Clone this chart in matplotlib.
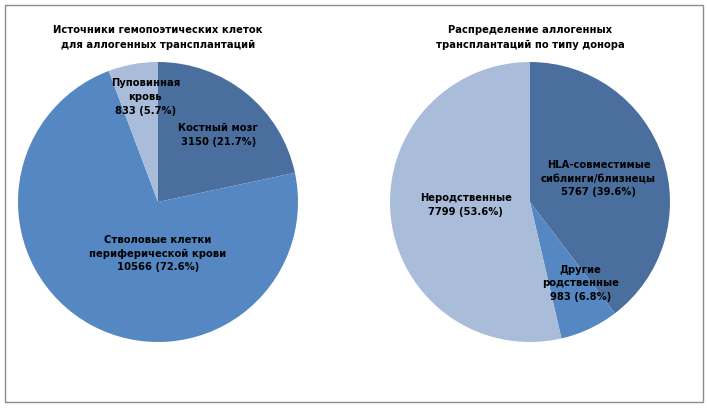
import matplotlib.pyplot as plt
from matplotlib.patches import Rectangle

# источники клеток
src_labels = ['Костный мозг', 'Стволовые клетки\nпериферической крови', 'Пуповинная\nкровь']
src_values = [3150, 10566, 833]
src_pct = ['21.7%', '72.6%', '5.7%']

# тип донора
don_labels = ['HLA-совместимые\nсиблинги/близнецы', 'Другие\nродственные', 'Неродственные']
don_values = [5767, 983, 7799]
don_pct = ['39.6%', '6.8%', '53.6%']

colors = ['#4a6f9f', '#5587c3', '#a9bcd9']

W, H = 707, 408
fig = plt.figure(figsize=(W / 100, H / 100), dpi=100)

# рамка
fig.add_artist(Rectangle((5 / W, 6 / H), 698 / W, 397 / H, transform=fig.transFigure,
                         fill=False, edgecolor='#8c8c8c', linewidth=1))


def draw_pie(x0, labels, values, pct, title, label_pos):
    ax = fig.add_axes([x0 / W, (H - 342) / H, 280 / W, 280 / H])
    ax.pie(values, colors=colors, startangle=90, counterclock=False,
           wedgeprops=dict(linewidth=0))
    ax.set_xlim(-1, 1)
    ax.set_ylim(-1, 1)
    ax.set_aspect('equal')
    for lab, v, p, (lx, ly) in zip(labels, values, pct, label_pos):
        ax.text(lx, ly, f'{lab}\n{v} ({p})', ha='center', va='center',
                fontsize=7.2, fontweight='bold', color='black', linespacing=1.45)
    fig.text((x0 + 140) / W, (H - 37.5) / H, title, ha='center', va='center',
             fontsize=7.2, fontweight='bold', linespacing=1.55)


draw_pie(18, src_labels, src_values, src_pct,
         'Источники гемопоэтических клеток\nдля аллогенных трансплантаций',
         [(0.43, 0.48), (0.0, -0.37), (-0.09, 0.75)])
draw_pie(390, don_labels, don_values, don_pct,
         'Распределение аллогенных\nтрансплантаций по типу донора',
         [(0.49, 0.17), (0.36, -0.58), (-0.46, -0.02)])

fig.savefig('out.png', dpi=100)
